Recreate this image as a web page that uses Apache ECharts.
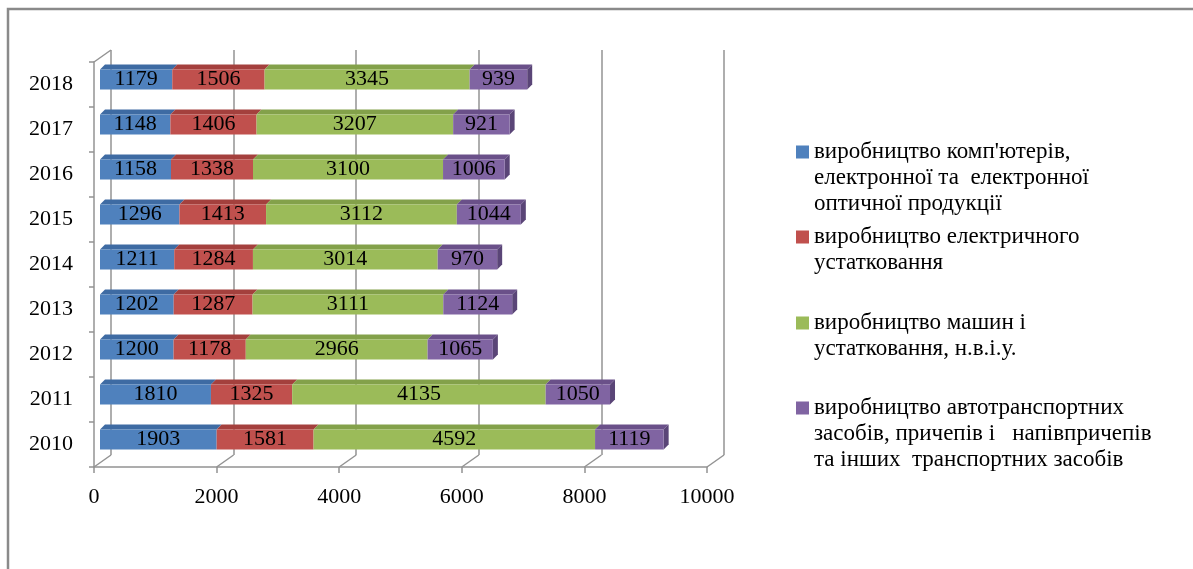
<!DOCTYPE html>
<html><head><meta charset="utf-8">
<script src="https://cdn.jsdelivr.net/npm/echarts@6/dist/echarts.min.js"></script>
<style>html,body{margin:0;padding:0;background:#fff}#c{width:1193px;height:569px}</style>
</head><body><div id="c"></div>
<script>
// ---- data ----
const years = ['2010','2011','2012','2013','2014','2015','2016','2017','2018'];
const computers  = [1903, 1810, 1200, 1202, 1211, 1296, 1158, 1148, 1179];
const electrical = [1581, 1325, 1178, 1287, 1284, 1413, 1338, 1406, 1506];
const machinery  = [4592, 4135, 2966, 3111, 3014, 3112, 3100, 3207, 3345];
const vehicles   = [1119, 1050, 1065, 1124,  970, 1044, 1006,  921,  939];
const seriesNames = [
  "виробництво комп'ютерів, електронної та  електронної оптичної продукції",
  "виробництво електричного устатковання",
  "виробництво машин і устатковання, н.в.і.у.",
  "виробництво автотранспортних засобів, причепів і   напівпричепів та інших  транспортних засобів"
];
const legendLines = [
  ["виробництво комп'ютерів,", "електронної та  електронної", "оптичної продукції"],
  ["виробництво електричного", "устатковання"],
  ["виробництво машин і", "устатковання, н.в.і.у."],
  ["виробництво автотранспортних", "засобів, причепів і   напівпричепів", "та інших  транспортних засобів"]
];
const xTicks = [0, 2000, 4000, 6000, 8000, 10000];

// ---- styling ----
const FRONT = ['#4F81BD', '#C0504D', '#9BBB59', '#8064A2'];
const TOP   = ['#3E6BA3', '#A4403D', '#83A14A', '#6A5089'];
const SIDE  = '#5A4577';
const serif = '"Liberation Serif","Times New Roman",serif';
const GRID_COL = '#939393';
const BAR_W = 20, DX = 5, DY = 5;
const WALL_DX = 17, WALL_DY = 12;

const values = [computers, electrical, machinery, vehicles];
const faceData = [];
years.forEach((y, i) => {
  let acc = 0;
  values.forEach((arr, s) => { faceData.push([acc, acc + arr[i], i, s]); acc += arr[i]; });
});

const front = {left: 94, right: 486, top: 62, bottom: 102};
const back = {left: front.left + WALL_DX, right: front.right - WALL_DX, top: front.top - WALL_DY, bottom: front.bottom + WALL_DY};
const barGrid = {left: 100, right: 480, top: 57, bottom: 107};

const legendFirstLine = [152, 237, 323, 408];
const LH = 26, SQ = 13;

function iconFor(n) {
  const H = (n - 1) * LH + SQ;
  return {
    h: H,
    path: 'path://M0,0L' + SQ + ',0L' + SQ + ',' + SQ + 'L0,' + SQ + 'Z' +
          'M0,' + H + 'L0.01,' + H + 'L0.01,' + (H - 0.01) + 'Z'
  };
}

const chart = echarts.init(document.getElementById('c'));
const option = {
  animation: false,
  backgroundColor: '#fff',
  graphic: [{
    type: 'polyline', z: 0,
    shape: {points: [[8, 569], [8, 9], [1193, 9]]},
    style: {stroke: '#8a8a8a', lineWidth: 2.5, fill: null}
  }],
  grid: [
    Object.assign({}, back),
    Object.assign({}, front),
    Object.assign({}, barGrid)
  ],
  xAxis: [
    {gridIndex: 0, type: 'value', min: 0, max: 10000, interval: 2000,
     axisLine: {show: false}, axisTick: {show: false}, axisLabel: {show: false},
     splitLine: {show: true, lineStyle: {color: GRID_COL, width: 1.5}}},
    {gridIndex: 1, type: 'value', min: 0, max: 10000, interval: 2000,
     axisLine: {show: true, lineStyle: {color: GRID_COL, width: 1.5}},
     axisTick: {show: true, length: 6, lineStyle: {color: GRID_COL, width: 1.5}},
     axisLabel: {color: '#000', fontFamily: serif, fontSize: 22, margin: 19,
       formatter: v => String(v)},
     splitLine: {show: false}},
    {gridIndex: 2, type: 'value', min: 0, max: 10000, show: false}
  ],
  yAxis: [
    {gridIndex: 0, type: 'category', data: years, show: false},
    {gridIndex: 1, type: 'category', data: years,
     axisLine: {show: true, lineStyle: {color: GRID_COL, width: 1.5}},
     axisTick: {show: true, length: 5, lineStyle: {color: GRID_COL, width: 1.5}},
     axisLabel: {color: '#000', fontFamily: serif, fontSize: 22, margin: 21},
     splitLine: {show: false}},
    {gridIndex: 2, type: 'category', data: years, show: false}
  ],
  legend: legendLines.map((lines, i) => {
    const ic = iconFor(lines.length);
    return {
      data: [seriesNames[i]],
      left: 796,
      top: legendFirstLine[i] - SQ / 2 - (LH - SQ) / 2,
      orient: 'vertical',
      icon: ic.path, itemWidth: SQ, itemHeight: ic.h,
      padding: 0,
      selectedMode: false,
      formatter: () => lines.join('\n'),
      textStyle: {color: '#000', fontFamily: serif, fontSize: 23, lineHeight: LH}
    };
  }),
  series: [
    ...values.map((arr, s) => ({
      name: seriesNames[s], type: 'bar', stack: 'total',
      xAxisIndex: 2, yAxisIndex: 2, barWidth: BAR_W,
      itemStyle: {color: FRONT[s]},
      label: {show: true, position: 'inside', color: '#000', fontFamily: serif, fontSize: 22},
      data: arr, z: 3
    })),
    {
      type: 'custom', xAxisIndex: 2, yAxisIndex: 2, z: 3, silent: true,
      data: faceData, encode: {x: [0, 1], y: 2},
      renderItem: (params, api) => {
        const s0 = api.value(0), s1 = api.value(1), ci = api.value(2), si = api.value(3);
        const p0 = api.coord([s0, ci]), p1 = api.coord([s1, ci]);
        const x0 = p0[0], x1 = p1[0], yT = p0[1] - BAR_W / 2, yB = p0[1] + BAR_W / 2;
        const children = [{
          type: 'polygon',
          shape: {points: [[x0, yT], [x1, yT], [x1 + DX, yT - DY], [x0 + DX, yT - DY]]},
          style: {fill: TOP[si]}
        }];
        if (si === values.length - 1) {
          children.push({
            type: 'polygon',
            shape: {points: [[x1, yT], [x1 + DX, yT - DY], [x1 + DX, yB - DY], [x1, yB]]},
            style: {fill: SIDE}
          });
        }
        return {type: 'group', children};
      }
    },
    {
      type: 'custom', xAxisIndex: 1, yAxisIndex: 1, z: 1, silent: true,
      data: xTicks.map(v => [v]), encode: {x: 0},
      renderItem: (params, api) => {
        const v = api.value(0);
        const cs = params.coordSys;
        const x = api.coord([v, 0])[0];
        const yb = cs.y + cs.height;
        const st = {stroke: GRID_COL, lineWidth: 1.5};
        const children = [{type: 'line', shape: {x1: x, y1: yb, x2: x + WALL_DX, y2: yb - WALL_DY}, style: st}];
        if (v === xTicks[0]) {
          children.push({type: 'line', shape: {x1: cs.x, y1: cs.y, x2: cs.x + WALL_DX, y2: cs.y - WALL_DY}, style: st});
        }
        return {type: 'group', children};
      }
    }
  ]
};
chart.setOption(option);
</script>
</body></html>
